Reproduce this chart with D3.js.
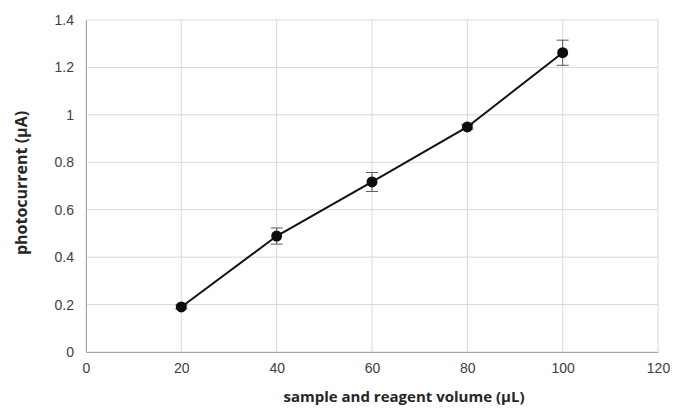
<!DOCTYPE html>
<html lang='en'>
  <head>
    <meta charset='utf-8'>
    <title>Photocurrent vs volume</title>
    <script src='https://d3js.org/d3.v7.min.js'></script>
    <style>
      html, body { margin: 0; padding: 0; background: #fff; }
      svg { display: block; font-family: 'Open Sans', 'DejaVu Sans', sans-serif; }
      .tick text { fill: #404040; font-size: 14px; }
      .axis-title { fill: #262626; font-size: 15px; font-weight: bold; }
    </style>
  </head>
  <body>
    <div class='vis'></div>
    <script>
      // data
      const volumes = [20, 40, 60, 80, 100];
      const currents = [0.19, 0.489, 0.717, 0.949, 1.262];
      const errors = [0.008, 0.034, 0.04, 0.01, 0.053];
      const xTicks = [0, 20, 40, 60, 80, 100, 120];
      const yTicks = [0, 0.2, 0.4, 0.6, 0.8, 1, 1.2, 1.4];

      const width = 674, height = 413;
      const margin = {top: 20, right: 16, bottom: 61, left: 86};

      const svg = d3.select('.vis').append('svg')
        .attr('width', width)
        .attr('height', height);

      const xScale = d3.scaleLinear().domain([0, 120]).range([margin.left, width - margin.right]);
      const yScale = d3.scaleLinear().domain([0, 1.4]).range([height - margin.bottom, margin.top]);

      // grid
      svg.append('g').selectAll('line.gx')
        .data(xTicks).enter().append('line')
          .attr('x1', d => xScale(d)).attr('x2', d => xScale(d))
          .attr('y1', yScale(0)).attr('y2', yScale(1.4))
          .attr('stroke', '#d9d9d9').attr('stroke-width', 1);
      svg.append('g').selectAll('line.gy')
        .data(yTicks).enter().append('line')
          .attr('x1', xScale(0)).attr('x2', xScale(120))
          .attr('y1', d => yScale(d)).attr('y2', d => yScale(d))
          .attr('stroke', '#d9d9d9').attr('stroke-width', 1);

      // axes
      const xAxis = d3.axisBottom(xScale).tickValues(xTicks).tickSize(0).tickPadding(11).tickFormat(d3.format('d'));
      const yAxis = d3.axisLeft(yScale).tickValues(yTicks).tickSize(0).tickPadding(12).tickFormat(d => d3.format('')(+d.toFixed(1)));

      svg.append('g')
        .attr('transform', 'translate(0,' + yScale(0) + ')')
        .call(xAxis)
        .call(g => g.select('.domain').attr('stroke', '#a6a6a6'));
      svg.append('g')
        .attr('transform', 'translate(' + xScale(0) + ',0)')
        .call(yAxis)
        .call(g => g.select('.domain').attr('stroke', '#a6a6a6'));

      // error bars
      const pts = volumes.map((v, i) => ({x: v, y: currents[i], e: errors[i]}));
      const eb = svg.append('g').attr('stroke', '#595959').attr('stroke-width', 1);
      pts.forEach(p => {
        eb.append('line')
          .attr('x1', xScale(p.x)).attr('x2', xScale(p.x))
          .attr('y1', yScale(p.y - p.e)).attr('y2', yScale(p.y + p.e));
        [p.y - p.e, p.y + p.e].forEach(v => {
          eb.append('line')
            .attr('x1', xScale(p.x) - 6).attr('x2', xScale(p.x) + 6)
            .attr('y1', yScale(v)).attr('y2', yScale(v));
        });
      });

      // line
      svg.append('path')
        .datum(pts)
        .attr('fill', 'none')
        .attr('stroke', '#111')
        .attr('stroke-width', 2)
        .attr('d', d3.line().x(d => xScale(d.x)).y(d => yScale(d.y)));

      // markers
      svg.append('g').selectAll('circle')
        .data(pts).enter().append('circle')
          .attr('cx', d => xScale(d.x))
          .attr('cy', d => yScale(d.y))
          .attr('r', 5.5)
          .attr('fill', '#0d0d0d');

      // titles
      svg.append('text')
        .attr('class', 'axis-title')
        .attr('x', 404)
        .attr('y', 402)
        .attr('text-anchor', 'middle')
        .text('sample and reagent volume (\u00b5L)');
      svg.append('text')
        .attr('class', 'axis-title')
        .style('font-size', '16px')
        .attr('transform', 'translate(27,' + ((yScale(0) + yScale(1.4)) / 2 - 3) + ') rotate(-90)')
        .attr('text-anchor', 'middle')
        .text('photocurrent (\u00b5A)');
    </script>
  </body>
</html>
